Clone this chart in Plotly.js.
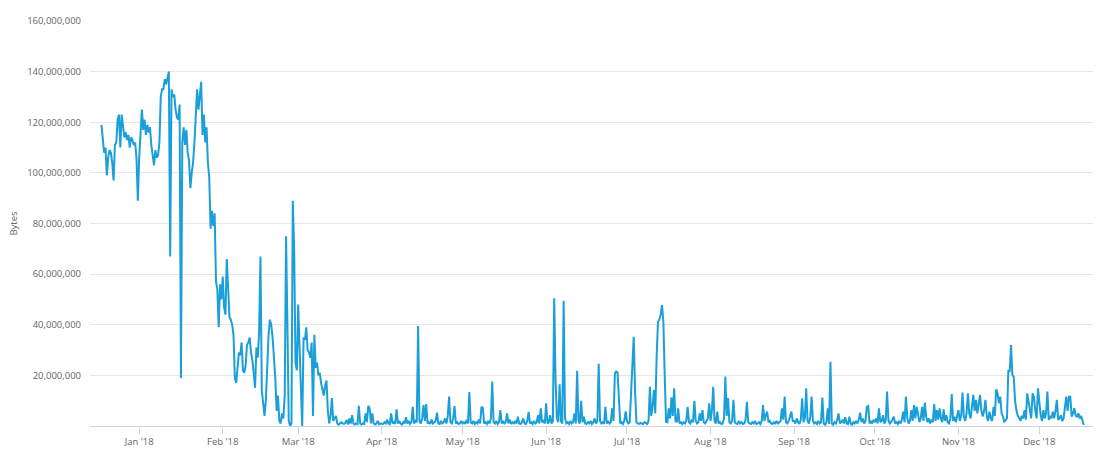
<!DOCTYPE html>
<html>
<head>
<meta charset="utf-8">
<script src="https://cdn.plot.ly/plotly-3.0.1.min.js"></script>
<style>html,body{margin:0;padding:0;background:#fff;}#chart{width:1100px;height:453px;}</style>
</head>
<body>
<div id="chart"></div>
<script>
// Mempool size, values in millions of bytes, one value every 12 hours
const dec17 = [119, 114, 108, 110, 99, 106, 109, 108, 104, 97, 111, 112, 121, 123, 110, 123, 117, 114, 116, 113, 115, 110, 114, 113, 111, 112, 106, 89];
const jan18 = [106, 118, 125, 117, 121, 115, 119, 116, 118, 111, 107, 103, 109, 106, 107, 112, 130, 133, 133, 137, 135, 138, 140, 67, 133, 130, 131, 125, 122, 121, 127, 19, 112, 118, 111, 117, 108, 105, 94, 100, 104, 112, 126, 133, 125, 130, 136, 115, 123, 112, 118, 104, 98, 78, 85, 79, 84, 57, 54, 39, 56, 50];
const feb18 = [59, 47, 44, 66, 54, 43, 42, 40, 36, 19, 17, 25, 29, 28, 33, 22, 21, 24, 32, 33, 35, 29, 26, 21, 15, 31, 27, 37, 67, 14, 9, 4, 10, 28, 36, 42, 40, 35, 27, 19, 6, 12, 2, 1, 5, 3, 12, 75, 40, 2, 0, 1, 89, 70, 25, 22];
const mar18 = [48, 35, 15, 0, 35, 34, 39, 30, 29, 27, 33, 4, 36, 23, 25, 20, 21, 17, 15, 12, 16, 18, 6, 1, 4, 11, 2, 3, 4, 1, 0.5, 1, 1.5, 1, 0.8, 1.2, 2.4, 0.6, 3, 1, 4.3, 1, 0.6, 1, 0.8, 8, 1, 0.6, 1, 0.8, 5, 1.5, 8, 7, 1, 5, 1, 0.6, 1, 2, 0.7, 1];
const apr18 = [1, 0.8, 1.5, 1, 2.5, 1, 0.7, 5, 1, 1.5, 0.8, 6.6, 1, 2, 1, 0.6, 1.5, 1, 3.5, 1, 2, 0.8, 1.5, 7.6, 1, 2, 1.5, 39.5, 2, 1, 3, 8.3, 2, 8.7, 1, 1.5, 0.8, 2.5, 1, 1.5, 2, 5.3, 1, 0.8, 2, 1, 1.5, 3, 1, 4, 11.6, 1.5, 1, 3, 7.9, 1, 1.5, 0.8, 1, 2];
const may18 = [1, 1.5, 0.8, 2.4, 1, 13.4, 1.5, 1, 2, 0.8, 1.5, 1, 2.5, 1, 7.6, 7.2, 1, 1.5, 0.8, 2, 1, 3, 17.6, 1.5, 1, 2, 0.8, 1.5, 6.3, 1, 2, 1, 1.5, 5, 1, 2.5, 0.8, 1.5, 1, 2, 1, 3.7, 1, 0.8, 1.5, 3, 1, 0.8, 2, 5.6, 1, 1.5, 0.8, 2, 1, 1.5, 4.3, 1, 7, 1.5, 2, 1];
const jun18 = [9, 1, 1.5, 4.3, 1, 2, 50.5, 18, 3, 1.5, 16.5, 2, 1, 49.5, 3, 1, 1.5, 0.8, 2, 1, 1.5, 5, 1, 21.8, 2, 1, 10, 1.5, 3.7, 1, 0.8, 1.5, 1, 2, 0.8, 1.5, 3, 1, 2, 24.6, 2, 1, 1.5, 0.8, 7.6, 1, 2, 1, 1.5, 7, 2, 20.8, 21.5, 21.2, 12.9, 1, 1.5, 0.8, 2, 5.8];
const jul18 = [2, 1, 1.5, 12, 22, 35.2, 14, 1.5, 1, 0.8, 1.2, 1, 0.8, 1.5, 1, 0.8, 2, 15.5, 4, 7.6, 14.2, 5, 27.4, 41.2, 42, 44, 47.8, 41.2, 20, 1.7, 1.5, 7, 3, 11.3, 4, 14.9, 2, 1.5, 7, 1, 1.5, 0.8, 1.5, 1, 2, 7.6, 1.5, 1, 2.5, 1.5, 9.9, 2, 1, 1.5, 5, 2, 6.3, 1.5, 1, 2, 3, 9];
const aug18 = [2, 6, 15.5, 2, 1, 5.7, 1, 1.5, 0.8, 1, 3, 19.5, 4, 11, 1.5, 1, 2, 10.3, 1.5, 1, 0.8, 2, 1, 1.5, 0.8, 1, 2.5, 9.6, 1.5, 1, 0.8, 1.5, 1, 2, 0.8, 1, 1.5, 0.8, 2, 8.3, 2, 4.3, 5.7, 1.5, 2, 1, 0.8, 1.5, 1, 2, 1, 1.5, 2, 7, 2.5, 11.6, 1.5, 1, 2, 3.7, 5.7, 2];
const sep18 = [2, 1, 3, 1.5, 0.8, 2.5, 10.9, 1.5, 3, 14.9, 2, 1, 3.5, 11.6, 2, 1, 1.5, 0.8, 2, 1, 1.5, 11.2, 1, 0.5, 1.5, 7, 0.8, 25.4, 1, 0.5, 1.5, 1, 2.5, 5, 1, 1.5, 2.5, 1, 3.5, 1, 0.8, 3.7, 1, 0.5, 1.5, 1, 2, 1, 2.5, 5.3, 1.5, 3, 1, 2, 7.6, 7.9, 1, 2, 1, 2.5];
const oct18 = [1.5, 3, 1, 7, 1.5, 2, 4.3, 1, 2, 13.6, 2.4, 1, 1.5, 2.5, 3.7, 1, 1.5, 0.8, 2, 1, 2.5, 5.7, 1.5, 11.6, 3.2, 1, 2, 6.3, 2, 8.3, 3, 7.6, 4.8, 1.5, 3, 7.6, 2, 9.2, 3.7, 1.5, 3, 1, 2.5, 1.5, 8.7, 2, 6.3, 2.5, 7, 3, 1.5, 6.6, 2, 4.3, 1.5, 1, 3, 12.6, 2, 3.7, 1.5, 4];
const nov18 = [6.3, 2, 4, 13.2, 3.7, 2, 5, 12.9, 5, 3, 7, 12.3, 6, 10.3, 5, 9.6, 12.3, 6, 3.7, 6, 10.3, 3.7, 2, 5.7, 3, 2, 7.6, 4, 14.5, 12.9, 9, 11.6, 5, 3.7, 1.5, 2.4, 3, 22.1, 21.4, 32, 20.2, 19.5, 10, 6.3, 4, 3.2, 2, 4, 3, 6.3, 2.5, 12.9, 9, 5, 3, 12.9, 11.6, 6, 3, 14.9];
const dec18 = [9, 4.3, 2, 6.3, 3, 5, 13.6, 2.4, 4, 3, 5.7, 3, 6, 10.3, 2.4, 3, 4.3, 2, 3, 8, 11.6, 6, 11.6, 11.6, 3.7, 5, 7, 4, 3.7, 5, 3, 4, 1.7, 0.4];

const segments = [
  ['2017-12-18', dec17], ['2018-01-01', jan18], ['2018-02-01', feb18], ['2018-03-01', mar18],
  ['2018-04-01', apr18], ['2018-05-01', may18], ['2018-06-01', jun18], ['2018-07-01', jul18],
  ['2018-08-01', aug18], ['2018-09-01', sep18], ['2018-10-01', oct18], ['2018-11-01', nov18],
  ['2018-12-01', dec18]
];
const stepHours = 12;
const yTicks = [20e6, 40e6, 60e6, 80e6, 100e6, 120e6, 140e6, 160e6];

const xs = [], ys = [];
segments.forEach(([start, vals]) => {
  const t0 = Date.parse(start + 'T00:00:00Z');
  vals.forEach((v, i) => {
    const d = new Date(t0 + i * stepHours * 3600e3);
    xs.push(d.toISOString().slice(0, 16).replace('T', ' '));
    ys.push(v * 1e6);
  });
});

const font = '"Open Sans", "Noto Sans", sans-serif';
Plotly.newPlot('chart', [{
  type: 'scatter', mode: 'lines', x: xs, y: ys,
  line: {color: '#1a9fd9', width: 2},
  hoverinfo: 'x+y'
}], {
  width: 1100, height: 453,
  margin: {l: 90, r: 7, t: 21, b: 27},
  paper_bgcolor: '#ffffff', plot_bgcolor: '#ffffff',
  showlegend: false,
  font: {family: font, size: 9.5, color: '#666666'},
  xaxis: {
    type: 'date', range: ['2017-12-13 18:00', '2018-12-20 22:00'],
    tick0: '2018-01-01', dtick: 'M1', tickformat: "%b '%y",
    ticks: 'outside', ticklen: 7, tickcolor: '#ccd6eb', tickwidth: 1,
    showline: true, linecolor: '#ccd6eb', linewidth: 1,
    showgrid: false, zeroline: false, automargin: false,
    tickfont: {family: font, size: 9.5, color: '#666666'}
  },
  yaxis: {
    range: [0, 160e6], tickvals: yTicks, tickformat: ',d',
    showgrid: true, gridcolor: '#e6e6e6', gridwidth: 1,
    zeroline: false, showline: false, ticks: '', automargin: false,
    ticklabelstandoff: 8,
    tickfont: {family: font, size: 9.5, color: '#666666'},
    title: {text: 'Bytes', standoff: 7, font: {family: font, size: 9.5, color: '#666666'}}
  }
}, {displayModeBar: false, staticPlot: true});
</script>
</body>
</html>
